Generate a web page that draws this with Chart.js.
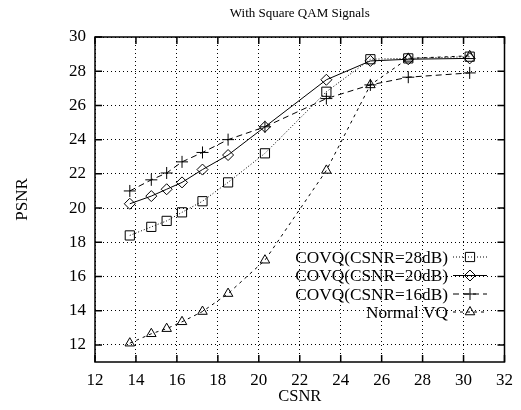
<!DOCTYPE html>
<html>
<head>
<meta charset="utf-8">
<script src="https://cdn.jsdelivr.net/npm/chart.js@4/dist/chart.umd.min.js"></script>
<style>
html,body{margin:0;padding:0;background:#fff;}
#wrap{width:521px;height:410px;}
</style>
</head>
<body>
<div id="wrap"><canvas id="c" width="521" height="410"></canvas></div>
<script>
const titleText = 'With Square QAM Signals';
const xTitle = 'CSNR';
const yTitle = 'PSNR';
const xTicks = [12, 14, 16, 18, 20, 22, 24, 26, 28, 30, 32];
const yTicks = [12, 14, 16, 18, 20, 22, 24, 26, 28, 30];
const csnr = [13.7, 14.75, 15.5, 16.25, 17.25, 18.5, 20.3, 23.3, 25.45, 27.3, 30.3];
const covq28 = [18.4, 18.9, 19.25, 19.75, 20.4, 21.5, 23.2, 26.8, 28.7, 28.75, 28.85];
const covq20 = [20.25, 20.7, 21.1, 21.5, 22.25, 23.1, 24.75, 27.5, 28.6, 28.7, 28.75];
const covq16 = [21.0, 21.65, 22.05, 22.7, 23.25, 24.0, 24.75, 26.4, 27.2, 27.65, 27.9];
const normalVQ = [12.1, 12.65, 12.95, 13.35, 13.95, 15.0, 16.95, 22.2, 27.2, 28.75, 28.9];
const seriesNames = ['COVQ(CSNR=28dB)', 'COVQ(CSNR=20dB)', 'COVQ(CSNR=16dB)', 'Normal VQ'];

const SERIF = '"Liberation Serif", "DejaVu Serif", serif';
const styles = [
  {dash: [1, 2], point: 'rect', radius: 6.5},
  {dash: [], point: 'rectRot', radius: 5.5},
  {dash: [6, 4], point: 'cross', radius: 6},
  {dash: [3, 4], point: 'triangle', radius: 5.5}
];
const seriesValues = [covq28, covq20, covq16, normalVQ];

const datasets = seriesValues.map((vals, k) => ({
  label: seriesNames[k],
  data: csnr.map((x, i) => ({x: x, y: vals[i]})),
  borderColor: '#000',
  borderWidth: 1,
  borderDash: styles[k].dash,
  pointStyle: styles[k].point,
  pointRadius: styles[k].radius,
  pointBorderColor: '#000',
  pointBackgroundColor: 'rgba(0,0,0,0)',
  pointBorderWidth: 1,
  fill: false,
  tension: 0
}));

function drawMarker(ctx, style, x, y, r) {
  ctx.beginPath();
  if (style === 'rect') {
    const s = r * Math.SQRT1_2;
    ctx.rect(x - s, y - s, 2 * s, 2 * s);
  } else if (style === 'rectRot') {
    ctx.moveTo(x, y - r); ctx.lineTo(x + r, y); ctx.lineTo(x, y + r); ctx.lineTo(x - r, y); ctx.closePath();
  } else if (style === 'cross') {
    ctx.moveTo(x, y - r); ctx.lineTo(x, y + r); ctx.moveTo(x - r, y); ctx.lineTo(x + r, y);
  } else if (style === 'triangle') {
    ctx.moveTo(x, y - r); ctx.lineTo(x + r * 0.866, y + r * 0.5); ctx.lineTo(x - r * 0.866, y + r * 0.5); ctx.closePath();
  }
  ctx.stroke();
}

const framePlugin = {
  id: 'frame',
  afterDraw(chart) {
    const {ctx, chartArea: {left, right, top, bottom}, scales: {x, y}} = chart;
    ctx.save();
    ctx.strokeStyle = '#000';
    ctx.setLineDash([]);
    ctx.lineWidth = 1.5;
    ctx.strokeRect(left, top, right - left, bottom - top);
    ctx.beginPath();
    xTicks.forEach(v => {
      const px = x.getPixelForValue(v);
      ctx.moveTo(px, bottom); ctx.lineTo(px, bottom - 7);
      ctx.moveTo(px, top); ctx.lineTo(px, top + 7);
    });
    yTicks.forEach(v => {
      const py = y.getPixelForValue(v);
      ctx.moveTo(left, py); ctx.lineTo(left + 7, py);
      ctx.moveTo(right, py); ctx.lineTo(right - 7, py);
    });
    ctx.stroke();

    // title centred over the plot area
    ctx.fillStyle = '#000';
    ctx.font = '13px ' + SERIF;
    ctx.textAlign = 'center';
    ctx.textBaseline = 'middle';
    ctx.fillText(titleText, (left + right) / 2, 14);

    // legend
    const textRight = 448, lx0 = 453, lx1 = 487, mx = 470;
    const rowY = [257, 275.5, 294, 312];
    ctx.font = '17.3px ' + SERIF;
    ctx.textAlign = 'right';
    ctx.textBaseline = 'middle';
    seriesNames.forEach((name, k) => {
      const yy = rowY[k];
      ctx.fillText(name, textRight, yy + 1);
      ctx.lineWidth = 1;
      ctx.setLineDash(styles[k].dash);
      ctx.beginPath(); ctx.moveTo(lx0, yy); ctx.lineTo(lx1, yy); ctx.stroke();
      ctx.setLineDash([]);
      drawMarker(ctx, styles[k].point, mx, yy, styles[k].radius);
    });
    ctx.restore();
  }
};

new Chart(document.getElementById('c'), {
  type: 'line',
  data: {datasets: datasets},
  plugins: [framePlugin],
  options: {
    responsive: false,
    animation: false,
    devicePixelRatio: 1,
    layout: {padding: {right: 10, left: 0, top: 37, bottom: 0}},
    plugins: {
      legend: {display: false},
      tooltip: {enabled: false},
      title: {display: false}
    },
    scales: {
      x: {
        type: 'linear',
        min: 12, max: 32,
        afterBuildTicks: s => { s.ticks = xTicks.map(v => ({value: v})); },
        afterFit: s => { s.height = 48; },
        grid: {color: '#000', lineWidth: 1, drawTicks: false},
        border: {display: false, dash: [1, 3]},
        ticks: {
          color: '#000', padding: 8, maxRotation: 0, autoSkip: false,
          font: {family: SERIF, size: 17},
          callback: v => String(v)
        },
        title: {
          display: true, text: xTitle, color: '#000',
          font: {family: SERIF, size: 16.5, lineHeight: 1.2},
          padding: {top: 0, bottom: 3}
        }
      },
      y: {
        type: 'linear',
        min: 11, max: 30,
        afterBuildTicks: s => { s.ticks = yTicks.map(v => ({value: v})); },
        afterFit: s => { s.width = 95; },
        grid: {color: '#000', lineWidth: 1, drawTicks: false},
        border: {display: false, dash: [1, 3]},
        ticks: {
          color: '#000', padding: 9, autoSkip: false,
          font: {family: SERIF, size: 17},
          callback: v => String(v)
        },
        title: {
          display: true, text: yTitle, color: '#000',
          font: {family: SERIF, size: 17, lineHeight: 1.2},
          padding: {top: 12, bottom: 0}
        }
      }
    }
  }
});
</script>
</body>
</html>
